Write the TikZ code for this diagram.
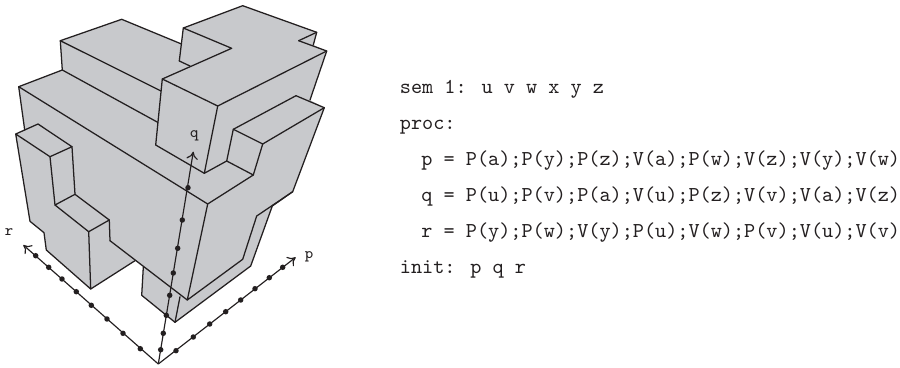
\documentclass[tikz,border=0pt]{standalone}
\usepackage{fontspec}
\usetikzlibrary{arrows.meta}
\definecolor{solidgray}{RGB}{200,201,204}
\definecolor{inkc}{RGB}{35,31,32}
\tikzset{
  edgeline/.style={draw=inkc,line width=0.6pt,line join=round,line cap=round},
  axisline/.style={draw=inkc,line width=0.55pt,-{To[length=3.6pt,width=5.5pt]}},
  dotnode/.style={circle,fill=inkc,inner sep=0pt,minimum size=2.6pt},
  axislabel/.style={inner sep=0pt,text=inkc,font=\ttfamily\fontsize{7.5}{8}\selectfont},
  codeline/.style={anchor=base west,inner sep=0pt,text=inkc,font=\ttfamily\fontsize{10.05}{12}\selectfont}
}
\begin{document}
\begin{tikzpicture}[x=0.474pt,y=-0.474pt]
\useasboundingbox (0,0) rectangle (900,367);
% silhouette
\fill[solidgray] (121.7,19.3) -- (181.5,44) -- (183.3,28) -- (242.7,5.7) -- (316.7,32.3) -- (313.3,45) -- (326.7,51) -- (310,100) -- (324.3,107.7) -- (292.7,191.7) -- (272.3,206) -- (250.7,266) -- (175,322.3) -- (141.7,295.3) -- (143.3,267.3) -- (135,260.7) -- (90.7,289) -- (46.3,250) -- (44,232.7) -- (30,221.3) -- (15.7,134) -- (24.7,130) -- (18.7,86.7) -- (62.3,70) -- (60.3,40.7) -- cycle;
% outline
\draw[edgeline] (181.5,44) -- (121.7,19.3) -- (60.3,40.7) -- (62.3,70) -- (18.7,86.7) -- (24.7,130);
\draw[edgeline] (179.3,61) -- (183.3,28) -- (242.7,5.7) -- (316.7,32.3) -- (313.3,45);
\draw[edgeline] (298.7,40.7) -- (316.7,32.3);
\draw[edgeline] (298.7,40.7) -- (326.7,51) -- (310,100);
\draw[edgeline] (296,95.7) -- (324.3,107.7) -- (292.7,191.7) -- (272.3,206) -- (250.7,266) -- (175,322.3) -- (141.7,295.3) -- (143.3,267.3);
\draw[edgeline] (110,240.7) -- (187.3,300);
\draw[edgeline] (135,260.7) -- (90.7,289) -- (46.3,250) -- (44,232.7) -- (30,221.3) -- (15.7,134) -- (38,124) -- (72,146.7) -- (50,156.7) -- (15.7,134);
% steps at the top
\draw[edgeline] (60.3,40.7) -- (161,91);
\draw[edgeline] (62.3,70) -- (157.7,122.3);
\draw[edgeline] (18.7,86.7) -- (207.7,204);
\draw[edgeline] (204.3,173.3) -- (155.7,145) -- (162.3,79) -- (217.7,106) -- (326.7,51);
\draw[edgeline] (217.7,106) -- (204.3,173.3) -- (226.7,161) -- (233.3,129.3) -- (296,95.7);
\draw[edgeline] (162.3,79) -- (231.7,48.3) -- (183.3,28);
\draw[edgeline] (179.3,61) -- (190,66);
% right-hand block
\draw[edgeline] (233.3,129.3) -- (262.7,144) -- (324.3,107.7);
\draw[edgeline] (262.7,144) -- (253.3,175) -- (226.7,161);
\draw[edgeline] (253.3,175) -- (207.7,204) -- (187.3,300) -- (242.7,259.3) -- (256.7,216) -- (292.7,191.7);
\draw[edgeline] (180,296.7) -- (175,322.3);
% left-hand block
\draw[edgeline] (50,156.7) -- (55,205) -- (88.7,231.7) -- (109.3,220) -- (75,194.3) -- (72,146.7);
\draw[edgeline] (55,205) -- (75,194.3);
\draw[edgeline] (88.7,231.7) -- (90.7,289);
\draw[edgeline] (109.3,220) -- (110,240.7);
% axes
\coordinate (origin) at (158.3,364);
\coordinate (rtip) at (23.3,245);
\coordinate (qtip) at (193.3,151.7);
\coordinate (ptip) at (295.7,257.3);
\draw[axisline] (origin) -- (rtip);
\draw[axisline] (origin) -- (qtip);
\draw[axisline] (origin) -- (ptip);
\foreach \n/\x/\y in {1/35.7/255.7,2/48.7/267.3,3/62/279,4/76.3/291.7,5/91.3/305.3,6/107/319,7/123/333.3,8/140.3/348.7}
  \node[dotnode] (r\n) at (\x,\y) {};
\foreach \n/\x/\y in {1/160.7/349.7,2/163.3/333.3,3/166.3/315.3,4/169.7/295.3,5/173.3/273,6/177.7/248.3,7/182.3/220,8/188/187.7}
  \node[dotnode] (q\n) at (\x,\y) {};
\foreach \n/\x/\y in {1/176/350.7,2/193.3/337,3/209.7/324,4/225.7/311.7,5/240.7/300,6/255/288.7,7/269.3/277.7,8/282.7/267.3}
  \node[dotnode] (p\n) at (\x,\y) {};
\node[axislabel] (rlabel) at (9,231.7) {r};
\node[axislabel] (qlabel) at (194.3,135.7) {q};
\node[axislabel] (plabel) at (309,257) {p};
% code
\node[codeline] (c1) at (399.5,93) {sem 1: u v w x y z};
\node[codeline] (c2) at (399.5,129) {proc:};
\node[codeline] (c3) at (421,165) {p = P(a);P(y);P(z);V(a);P(w);V(z);V(y);V(w)};
\node[codeline] (c4) at (421,201) {q = P(u);P(v);P(a);V(u);P(z);V(v);V(a);V(z)};
\node[codeline] (c5) at (421,237) {r = P(y);P(w);V(y);P(u);V(w);P(v);V(u);V(v)};
\node[codeline] (c6) at (399.5,273) {init: p q r};
\end{tikzpicture}
\end{document}
